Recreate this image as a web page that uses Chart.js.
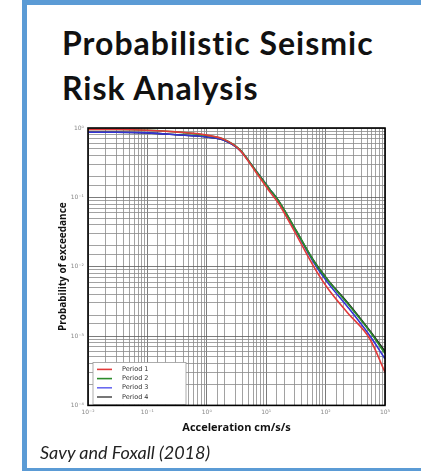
<!DOCTYPE html>
<html>
<head>
<meta charset="utf-8">
<script src="https://cdn.jsdelivr.net/npm/chart.js@4/dist/chart.umd.min.js"></script>
<style>
  html, body { margin: 0; padding: 0; background: #fff; overflow: hidden; }
  body { width: 421px; height: 471px; position: relative; }
  .frame { position: absolute; left: 22px; top: 0; width: 440px; height: 471px;
           box-sizing: border-box; border-left: 5px solid #5b9bd5; border-top: 5px solid #5b9bd5;
           border-bottom: 3px solid #5b9bd5; }
  .title { position: absolute; left: 62px; top: 20px; font-family: Lato, sans-serif;
           font-weight: bold; font-size: 32px; letter-spacing: 1px; line-height: 45px; color: #111; }
  .caption { position: absolute; left: 40px; top: 441px; font-family: Lato, sans-serif;
             font-style: italic; font-size: 18px; color: #222; }
  #chart { position: absolute; left: 0; top: 0; }
</style>
</head>
<body>
<div class="frame"></div>
<div class="title">Probabilistic Seismic<br>Risk Analysis</div>
<canvas id="chart" width="421" height="471"></canvas>
<div class="caption">Savy and Foxall (2018)</div>
<script>
const accel = [0.01, 0.03, 0.1, 0.3, 1, 2, 3.6, 6.5, 11.5, 16, 32, 62, 110, 230, 560, 1000];
const period1 = [0.95, 0.95, 0.93, 0.88, 0.79, 0.68, 0.48, 0.24, 0.12, 0.083, 0.029, 0.0103, 0.0048, 0.0022, 0.0009, 0.0003];
const period2 = [0.95, 0.95, 0.93, 0.88, 0.78, 0.68, 0.49, 0.25, 0.13, 0.09, 0.033, 0.0124, 0.0063, 0.003, 0.00115, 0.00056];
const period3 = [0.87, 0.87, 0.85, 0.8, 0.74, 0.66, 0.48, 0.25, 0.13, 0.089, 0.032, 0.0118, 0.0058, 0.0027, 0.001, 0.00047];
const period4 = [0.87, 0.87, 0.85, 0.8, 0.74, 0.66, 0.48, 0.25, 0.13, 0.09, 0.033, 0.0125, 0.0064, 0.0031, 0.00118, 0.0006];
const seriesNames = ['Period 1', 'Period 2', 'Period 3', 'Period 4'];
const lineColors = ['#e23a3a', '#2c8c2c', '#3434d4', '#1a1a1a'];
const legendColors = ['#e23a3a', '#2c8c2c', '#6a6af0', '#555555'];

const superDigits = { '-': '⁻', '0': '⁰', '1': '¹', '2': '²', '3': '³', '4': '⁴' };
function isDecade(v) {
    const l = Math.log10(v);
    return Math.abs(l - Math.round(l)) < 1e-6;
}
function decadeLabel(v) {
    if (!isDecade(v)) return '';
    const e = String(Math.round(Math.log10(v)));
    return '10' + e.split('').map(c => superDigits[c]).join('');
}

function toPoints(ys) {
    return accel.map((x, i) => ({ x: x, y: ys[i] }));
}

const datasets = [period1, period2, period3, period4].map((ys, i) => ({
    label: seriesNames[i],
    data: toPoints(ys),
    borderColor: lineColors[i],
    borderWidth: 1.6,
    pointRadius: 0,
    fill: false,
    cubicInterpolationMode: 'monotone',
}));

// frame round the plot and the legend box inside the plot
const plotExtras = {
    id: 'plotExtras',
    afterDatasetsDraw(chart) {
        const ctx = chart.ctx;
        const a = chart.chartArea;
        ctx.save();
        const bx = a.left + 5, by = a.bottom - 43, bw = 93, bh = 42;
        ctx.fillStyle = '#fff';
        ctx.fillRect(bx, by, bw, bh);
        ctx.strokeStyle = '#999';
        ctx.lineWidth = 0.8;
        ctx.strokeRect(bx, by, bw, bh);
        ctx.font = '6.5px "DejaVu Sans", sans-serif';
        ctx.textBaseline = 'middle';
        chart.data.datasets.forEach((ds, i) => {
            const y = by + 7 + i * 9.2;
            ctx.strokeStyle = legendColors[i];
            ctx.lineWidth = 1.6;
            ctx.beginPath();
            ctx.moveTo(bx + 4, y);
            ctx.lineTo(bx + 19, y);
            ctx.stroke();
            ctx.fillStyle = '#333';
            ctx.fillText(ds.label, bx + 29, y);
        });
        ctx.strokeStyle = '#000';
        ctx.lineWidth = 1.6;
        ctx.strokeRect(a.left, a.top, a.right - a.left, a.bottom - a.top);
        ctx.restore();
    }
};

const gridColor = ctx => (ctx.tick && isDecade(ctx.tick.value)) ? '#5a5a5a' : '#8a8a8a';

new Chart(document.getElementById('chart'), {
    type: 'line',
    data: { datasets: datasets },
    plugins: [plotExtras],
    options: {
        responsive: false,
        animation: false,
        layout: { padding: { top: 128, right: 36, left: 57, bottom: 37 } },
        plugins: { legend: { display: false }, tooltip: { enabled: false } },
        scales: {
            x: {
                type: 'logarithmic',
                min: 0.01,
                max: 1000,
                afterFit: s => { s.height = 28.6; },
                grid: { color: gridColor, lineWidth: 0.8, drawTicks: false },
                border: { display: false },
                ticks: {
                    autoSkip: false, maxRotation: 0, padding: 3,
                    color: '#888', font: { size: 6, family: 'DejaVu Sans' },
                    callback: v => decadeLabel(v),
                },
                title: {
                    display: true, text: 'Acceleration cm/s/s', color: '#111',
                    padding: 0, font: { size: 11, weight: 'bold', family: 'Open Sans' },
                },
            },
            y: {
                type: 'logarithmic',
                min: 0.0001,
                max: 1,
                afterFit: s => { s.width = 31; },
                grid: { color: gridColor, lineWidth: 0.8, drawTicks: false },
                border: { display: false },
                ticks: {
                    autoSkip: false, padding: 4,
                    color: '#888', font: { size: 6, family: 'DejaVu Sans' },
                    callback: v => decadeLabel(v),
                },
                title: {
                    display: true, text: 'Probability of exceedance', color: '#111',
                    padding: 0, font: { size: 10, weight: 'bold', family: 'Open Sans' },
                },
            },
        },
    },
});
</script>
</body>
</html>
